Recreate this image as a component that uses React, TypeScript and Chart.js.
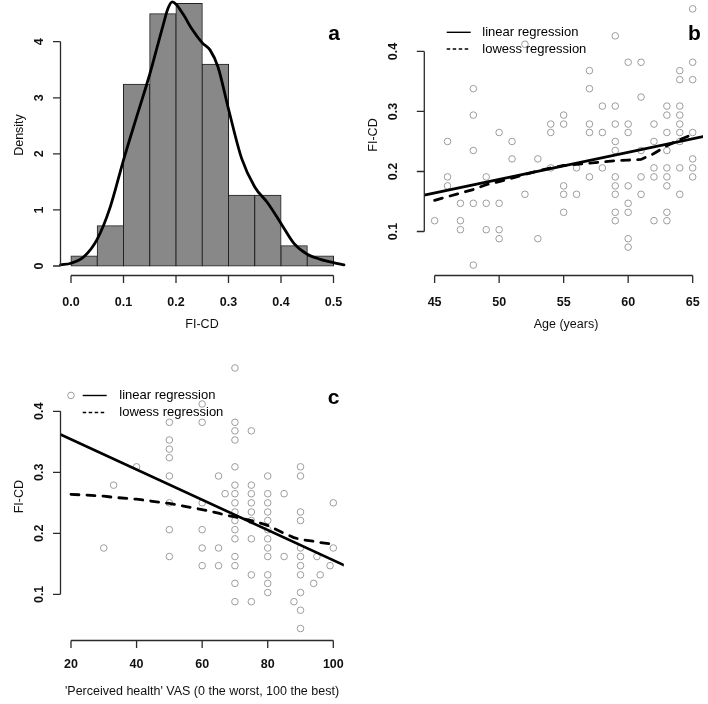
import React, { useEffect, useRef } from "react";
import { Chart, registerables } from "chart.js";

Chart.register(...registerables);

const FONT = "'Liberation Sans', Arial, Helvetica, sans-serif";

// ---------------- Panel a: histogram of FI-CD with density curve ----------------
const histBinMids = [0.025, 0.075, 0.125, 0.175, 0.225, 0.275, 0.325, 0.375, 0.425, 0.475];
const histDensity = [0.18, 0.72, 3.24, 4.5, 4.68, 3.6, 1.26, 1.26, 0.36, 0.18];
const kdeX = [-0.02, 0, 0.025, 0.05, 0.075, 0.1, 0.125, 0.15, 0.175, 0.185, 0.193, 0.2, 0.215, 0.23, 0.25, 0.265, 0.28, 0.3, 0.325, 0.35, 0.375, 0.4, 0.425, 0.45, 0.475, 0.5, 0.52];
const kdeY = [0.02, 0.05, 0.17, 0.48, 1.06, 1.89, 2.66, 3.42, 4.28, 4.6, 4.71, 4.67, 4.47, 4.23, 3.98, 3.85, 3.55, 2.8, 1.92, 1.41, 1.12, 0.76, 0.4, 0.21, 0.12, 0.06, 0.02];
const aXTicks = [0, 0.1, 0.2, 0.3, 0.4, 0.5];
const aXTickLabels = ["0.0", "0.1", "0.2", "0.3", "0.4", "0.5"];
const aYTicks = [0, 1, 2, 3, 4];
const aYTickLabels = ["0", "1", "2", "3", "4"];

// ---------------- Panel b: FI-CD vs age ----------------
const bAge = [
  45,
  46, 46, 46,
  47, 47, 47,
  48, 48, 48, 48, 48,
  49, 49, 49,
  50, 50, 50, 50,
  51, 51,
  52, 52,
  53, 53,
  54, 54, 54,
  55, 55, 55, 55, 55,
  56, 56,
  57, 57, 57, 57, 57,
  58, 58, 58,
  59, 59, 59, 59, 59, 59, 59, 59, 59, 59,
  60, 60, 60, 60, 60, 60, 60, 60,
  61, 61, 61, 61, 61,
  62, 62, 62, 62, 62,
  63, 63, 63, 63, 63, 63, 63, 63, 63,
  64, 64, 64, 64, 64, 64, 64, 64, 64,
  65, 65, 65, 65, 65, 65, 65,
];
const bFi = [
  0.118,
  0.25, 0.191, 0.176,
  0.147, 0.118, 0.103,
  0.338, 0.294, 0.235, 0.147, 0.044,
  0.191, 0.147, 0.103,
  0.265, 0.147, 0.103, 0.088,
  0.25, 0.221,
  0.412, 0.162,
  0.221, 0.088,
  0.279, 0.265, 0.206,
  0.294, 0.279, 0.176, 0.162, 0.132,
  0.206, 0.162,
  0.368, 0.338, 0.279, 0.265, 0.191,
  0.309, 0.265, 0.206,
  0.426, 0.309, 0.279, 0.25, 0.235, 0.191, 0.176, 0.162, 0.132, 0.118,
  0.382, 0.279, 0.265, 0.176, 0.147, 0.132, 0.088, 0.074,
  0.382, 0.324, 0.235, 0.191, 0.162,
  0.279, 0.25, 0.206, 0.191, 0.118,
  0.309, 0.294, 0.265, 0.235, 0.206, 0.191, 0.176, 0.132, 0.118,
  0.368, 0.353, 0.309, 0.294, 0.279, 0.265, 0.25, 0.206, 0.162,
  0.471, 0.382, 0.353, 0.265, 0.221, 0.206, 0.191,
];
const bLowessAge = [45, 46, 47, 48, 49, 50, 51, 52, 53, 54, 55, 56, 57, 58, 59, 60, 61, 62, 63, 64, 65];
const bLowessFi = [0.152, 0.158, 0.164, 0.17, 0.178, 0.183, 0.189, 0.195, 0.201, 0.206, 0.21, 0.212, 0.214, 0.216, 0.218, 0.219, 0.22, 0.23, 0.243, 0.253, 0.262];
const bLinearAge = [44.2, 65.8];
const bLinearFi = [0.1605, 0.258];
const bXTicks = [45, 50, 55, 60, 65];
const bXTickLabels = ["45", "50", "55", "60", "65"];
const fiTicks = [0.1, 0.2, 0.3, 0.4];
const fiTickLabels = ["0.1", "0.2", "0.3", "0.4"];

// ---------------- Panel c: FI-CD vs perceived health VAS ----------------
const cVas = [
  20, 30, 33, 40,
  50, 50, 50, 50, 50, 50, 50, 50,
  60, 60, 60, 60, 60, 60,
  65, 65, 65,
  67,
  70, 70, 70, 70, 70, 70, 70, 70, 70, 70, 70, 70, 70, 70, 70, 70,
  75, 75, 75, 75, 75, 75, 75, 75, 75,
  80, 80, 80, 80, 80, 80, 80, 80, 80, 80, 80, 80,
  85, 85,
  88,
  90, 90, 90, 90, 90, 90, 90, 90, 90, 90, 90,
  94, 95, 96, 99,
  100, 100,
];
const cFi = [
  0.426, 0.176, 0.279, 0.309,
  0.382, 0.353, 0.338, 0.324, 0.294, 0.25, 0.206, 0.162,
  0.412, 0.382, 0.25, 0.206, 0.176, 0.147,
  0.294, 0.176, 0.147,
  0.265,
  0.471, 0.382, 0.368, 0.353, 0.309, 0.279, 0.265, 0.25, 0.235, 0.221, 0.206, 0.191, 0.162, 0.147, 0.118, 0.088,
  0.368, 0.279, 0.265, 0.25, 0.235, 0.221, 0.191, 0.132, 0.088,
  0.294, 0.265, 0.25, 0.235, 0.221, 0.206, 0.191, 0.176, 0.162, 0.132, 0.118, 0.103,
  0.265, 0.162,
  0.088,
  0.309, 0.294, 0.235, 0.221, 0.176, 0.162, 0.147, 0.132, 0.103, 0.074, 0.044,
  0.118, 0.162, 0.132, 0.147,
  0.25, 0.176,
];
const cLowessVas = [20, 30, 33, 40, 50, 60, 65, 67, 70, 75, 80, 85, 88, 90, 94, 95, 96, 99, 100];
const cLowessFi = [0.264, 0.261, 0.259, 0.256, 0.249, 0.239, 0.233, 0.23, 0.227, 0.221, 0.213, 0.2, 0.193, 0.19, 0.187, 0.186, 0.185, 0.183, 0.182];
const cLinearVas = [16.8, 103.2];
const cLinearFi = [0.362, 0.148];
const cXTicks = [20, 40, 60, 80, 100];
const cXTickLabels = ["20", "40", "60", "80", "100"];

const legendLabels = ["linear regression", "lowess regression"];

const toXY = (xs: number[], ys: number[]) => xs.map((x, i) => ({ x, y: ys[i] }));

// R-style axes, titles, panel letter and legend, drawn from the chart's own scales
const rStylePlugin: any = {
  id: "rStyle",
  afterDatasetsDraw(chart: any, _args: any, o: any) {
    const { ctx, chartArea: ca, scales } = chart;
    const xs = scales.x;
    const ys = scales.y;
    ctx.save();
    ctx.strokeStyle = "#2a2a2a";
    ctx.lineWidth = 1.3;
    ctx.setLineDash([]);
    ctx.beginPath();
    const yLine = ca.bottom;
    const xt = o.xTicks as number[];
    ctx.moveTo(xs.getPixelForValue(xt[0]), yLine);
    ctx.lineTo(xs.getPixelForValue(xt[xt.length - 1]), yLine);
    xt.forEach((v) => {
      const p = xs.getPixelForValue(v);
      ctx.moveTo(p, yLine);
      ctx.lineTo(p, yLine + 7.5);
    });
    const xLine = ca.left;
    const yt = o.yTicks as number[];
    ctx.moveTo(xLine, ys.getPixelForValue(yt[0]));
    ctx.lineTo(xLine, ys.getPixelForValue(yt[yt.length - 1]));
    yt.forEach((v) => {
      const p = ys.getPixelForValue(v);
      ctx.moveTo(xLine, p);
      ctx.lineTo(xLine - 7.5, p);
    });
    ctx.stroke();

    ctx.fillStyle = "#111";
    ctx.textAlign = "center";
    ctx.textBaseline = "middle";
    ctx.font = `bold 12.5px ${FONT}`;
    xt.forEach((v, i) => ctx.fillText(o.xLabels[i], xs.getPixelForValue(v), o.xLabelY));
    yt.forEach((v, i) => {
      ctx.save();
      ctx.translate(o.yLabelX, ys.getPixelForValue(v));
      ctx.rotate(-Math.PI / 2);
      ctx.fillText(o.yLabels[i], 0, 0);
      ctx.restore();
    });

    ctx.font = `12.5px ${FONT}`;
    ctx.fillText(o.xTitle, o.xTitleX, o.xTitleY);
    ctx.save();
    ctx.translate(o.yTitleX, o.yTitleY);
    ctx.rotate(-Math.PI / 2);
    ctx.fillText(o.yTitle, 0, 0);
    ctx.restore();

    ctx.font = `bold 21px ${FONT}`;
    ctx.textBaseline = "alphabetic";
    ctx.fillStyle = "#000";
    ctx.fillText(o.letter, o.letterX, o.letterY);

    if (o.legend) {
      const lg = o.legend;
      ctx.strokeStyle = "#000";
      ctx.lineWidth = 1.4;
      ctx.beginPath();
      ctx.moveTo(lg.x1, lg.y1);
      ctx.lineTo(lg.x2, lg.y1);
      ctx.stroke();
      ctx.setLineDash([3.5, 2.5]);
      ctx.beginPath();
      ctx.moveTo(lg.x1, lg.y2);
      ctx.lineTo(lg.x2, lg.y2);
      ctx.stroke();
      ctx.setLineDash([]);
      ctx.font = `13px ${FONT}`;
      ctx.textAlign = "left";
      ctx.textBaseline = "middle";
      ctx.fillStyle = "#000";
      ctx.fillText(legendLabels[0], lg.textX, lg.y1);
      ctx.fillText(legendLabels[1], lg.textX, lg.y2);
    }
    ctx.restore();
  },
};

const baseOptions = (padding: any, xr: number[], yr: number[], rStyle: any) => ({
  responsive: false,
  animation: false,
  devicePixelRatio: 1,
  events: [],
  layout: { padding },
  scales: {
    x: { type: "linear", min: xr[0], max: xr[1], display: false, offset: false },
    y: { type: "linear", min: yr[0], max: yr[1], display: false },
  },
  plugins: { legend: { display: false }, tooltip: { enabled: false }, rStyle },
});

function configA(): any {
  return {
    type: "bar",
    data: {
      datasets: [
        {
          type: "line",
          data: toXY(kdeX, kdeY),
          borderColor: "#000",
          borderWidth: 2.8,
          pointRadius: 0,
          cubicInterpolationMode: "monotone",
          fill: false,
          order: 0,
          clip: false,
          borderCapStyle: "round",
        },
        {
          type: "bar",
          data: toXY(histBinMids, histDensity),
          backgroundColor: "#888888",
          borderColor: "#222",
          borderWidth: 1,
          borderSkipped: false,
          inflateAmount: 0.5,
          barPercentage: 1,
          categoryPercentage: 1,
          order: 1,
        },
      ],
    },
    options: baseOptions({ left: 60.5, right: 10, top: 0, bottom: 76.5 }, [-0.02, 0.52], [-0.169, 4.744], {
      xTicks: aXTicks, xLabels: aXTickLabels, xLabelY: 302.5,
      xTitle: "FI-CD", xTitleX: 202, xTitleY: 325,
      yTicks: aYTicks, yLabels: aYTickLabels, yLabelX: 40,
      yTitle: "Density", yTitleX: 20, yTitleY: 135,
      letter: "a", letterX: 334, letterY: 39.5,
    }),
    plugins: [rStylePlugin],
  };
}

const lineSets = (linX: number[], linY: number[], lowX: number[], lowY: number[], px: number[], py: number[]) => [
  {
    data: toXY(linX, linY), showLine: true, borderColor: "#000", borderWidth: 2.8, pointRadius: 0,
    order: 0, borderCapStyle: "round",
  },
  {
    data: toXY(lowX, lowY), showLine: true, borderColor: "#000", borderWidth: 2.8, pointRadius: 0,
    borderDash: [8, 8], borderCapStyle: "round", order: 1,
  },
  {
    data: toXY(px, py), showLine: false, pointRadius: 3.3, pointBorderColor: "#9c9c9c",
    pointBackgroundColor: "rgba(0,0,0,0)", pointBorderWidth: 1, order: 2, clip: false,
  },
];

function configB(): any {
  return {
    type: "scatter",
    data: { datasets: lineSets(bLinearAge, bLinearFi, bLowessAge, bLowessFi, bAge, bFi) },
    options: baseOptions({ left: 70.3, right: 0, top: 0, bottom: 76.5 }, [44.2, 65.8], [0.0267, 0.4774], {
      xTicks: bXTicks, xLabels: bXTickLabels, xLabelY: 302.5,
      xTitle: "Age (years)", xTitleX: 212, xTitleY: 325,
      yTicks: fiTicks, yLabels: fiTickLabels, yLabelX: 39.5,
      yTitle: "FI-CD", yTitleX: 20, yTitleY: 135,
      letter: "b", letterX: 340.5, letterY: 40,
      legend: { x1: 92.7, x2: 116.7, textX: 128.3, y1: 32.3, y2: 49 },
    }),
    plugins: [rStylePlugin],
  };
}

function configC(): any {
  return {
    type: "scatter",
    data: { datasets: lineSets(cLinearVas, cLinearFi, cLowessVas, cLowessFi, cVas, cFi) },
    options: baseOptions({ left: 60.5, right: 10.2, top: 4.6, bottom: 63.5 }, [16.8, 103.2], [0.0244, 0.489], {
      xTicks: cXTicks, xLabels: cXTickLabels, xLabelY: 313,
      xTitle: "'Perceived health' VAS (0 the worst, 100 the best)", xTitleX: 202, xTitleY: 340,
      yTicks: fiTicks, yLabels: fiTickLabels, yLabelX: 40,
      yTitle: "FI-CD", yTitleX: 20, yTitleY: 144.7,
      letter: "c", letterX: 333.5, letterY: 52,
      legend: { x1: 82.7, x2: 106.7, textX: 119.3, y1: 43.5, y2: 60.5 },
    }),
    plugins: [rStylePlugin],
  };
}

function Panel({ make, left, top }: { make: () => any; left: number; top: number }) {
  const ref = useRef<HTMLCanvasElement | null>(null);
  useEffect(() => {
    if (!ref.current) return;
    const chart = new Chart(ref.current, make());
    return () => chart.destroy();
  }, [make]);
  return (
    <canvas
      ref={ref}
      width={354}
      height={352}
      style={{ position: "absolute", left, top, width: 354, height: 352, display: "block" }}
    />
  );
}

export default function App() {
  return (
    <div style={{ position: "absolute", left: 0, top: 0, width: 708, height: 704, background: "#fff", overflow: "hidden" }}>
      <Panel make={configA} left={0} top={0} />
      <Panel make={configB} left={354} top={0} />
      <Panel make={configC} left={0} top={352} />
    </div>
  );
}
